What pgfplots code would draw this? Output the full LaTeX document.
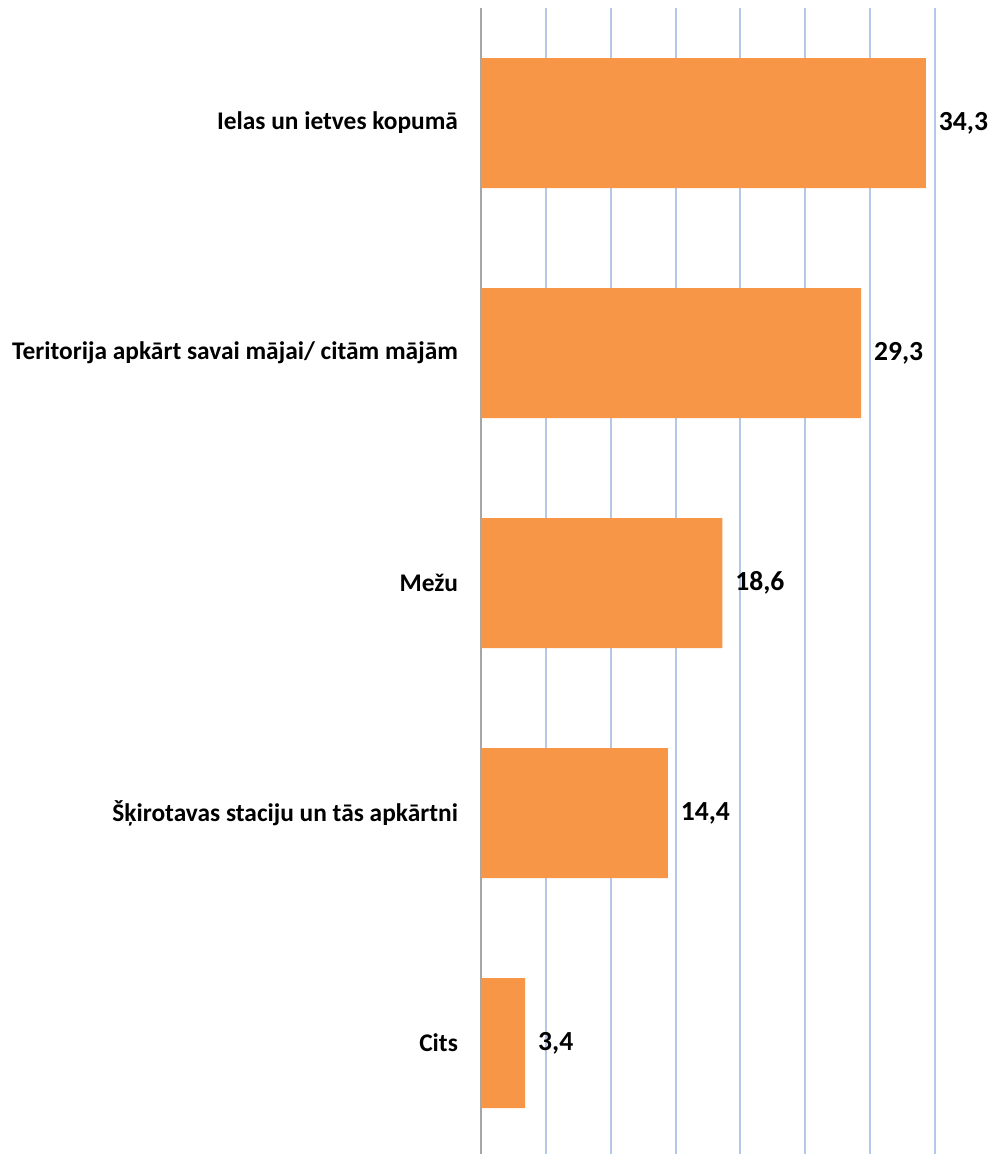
\documentclass[border=0pt]{standalone}
\usepackage{pgfplots}
\pgfplotsset{compat=1.18}
\usepackage{fontspec}
\setmainfont{Carlito}
\definecolor{barorange}{HTML}{F79646}
\definecolor{gridblue}{HTML}{B4C7E7}
\begin{document}
\begin{tikzpicture}[x=1pt,y=1pt]
\begin{axis}[
  at={(0,0)}, anchor=north west,
  scale only axis,
  width=227pt, height=575pt,
  xbar, bar width=65pt,
  xmin=0, xmax=35,
  ymin=-0.5, ymax=4.5, y dir=reverse,
  xtick={5,10,...,35}, xticklabels={},
  xmajorgrids, grid style={gridblue, line width=1pt},
  extra x ticks={0}, extra x tick labels={},
  extra x tick style={grid style={gray!70, line width=0.6pt}},
  major tick length=0pt,
  ytick={0,1,2,3,4},
  yticklabels={Ielas un ietves kopumā, Teritorija apkārt savai mājai/ citām mājām, Mežu, Šķirotavas staciju un tās apkārtni, Cits},
  yticklabel style={font=\bfseries\fontsize{12.7}{15}\selectfont, text=black, xshift=-8pt},
  axis line style={draw=none},
  nodes near coords,
  nodes near coords style={font=\bfseries\fontsize{13.8}{16}\selectfont, text=black, anchor=west, xshift=3pt,
    /pgf/number format/.cd, use comma, fixed, fixed zerofill, precision=1, assume math mode=true},
  clip=false,
]
\addplot[fill=barorange, draw=none] coordinates {
  (34.3,0) (29.3,1) (18.6,2) (14.4,3) (3.4,4)
};
\end{axis}
\pgfresetboundingbox
\path[use as bounding box] (-240.5pt,4pt) rectangle (256pt,-573pt);
\end{tikzpicture}
\end{document}
